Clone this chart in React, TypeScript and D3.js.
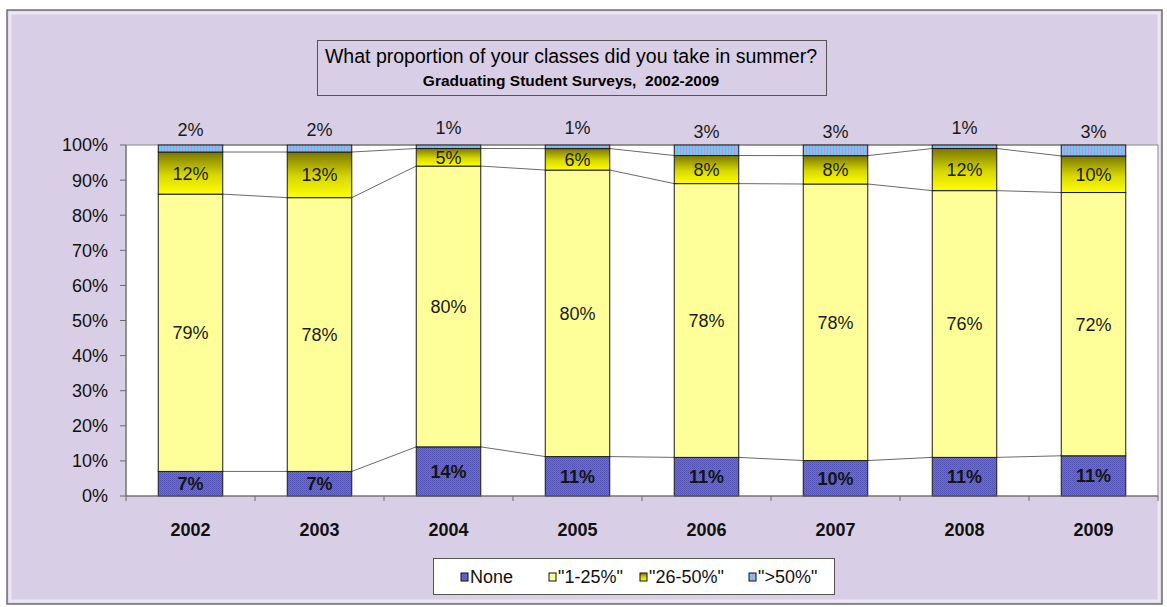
import React from "react";
import * as d3 from "d3";

const years = ["2002", "2003", "2004", "2005", "2006", "2007", "2008", "2009"];
const noneVals = [7, 7, 14, 11, 11, 10, 11, 11];
const lowVals = [79, 78, 80, 80, 78, 78, 76, 72];
const midVals = [12, 13, 5, 6, 8, 8, 12, 10];
const highVals = [2, 2, 1, 1, 3, 3, 1, 3];
const seriesKeys = ["none", "low", "mid", "high"];
const seriesNames = ["None", '"1-25%"', '"26-50%"', '">50%"'];
const yTicks = [0, 10, 20, 30, 40, 50, 60, 70, 80, 90, 100];
const titleText = "What proportion of your classes did you take in summer?";
const subtitleText = "Graduating Student Surveys,  2002-2009";

const W = 1167;
const H = 607;
const plot = { left: 126, right: 1158, top: 145, bottom: 496 };
const FONT = "'Liberation Sans', Arial, sans-serif";

const fills = ["url(#pNone)", "#FFFF99", "url(#gMid)", "url(#pHigh)"];

export default function App() {
  const rows = years.map((y, i) => ({
    year: y,
    none: noneVals[i],
    low: lowVals[i],
    mid: midVals[i],
    high: highVals[i],
  }));
  const stack = d3.stack<any>().keys(seriesKeys).offset(d3.stackOffsetExpand);
  const layers = stack(rows);

  const x = d3
    .scaleBand<string>()
    .domain(years)
    .range([plot.left, plot.right])
    .paddingInner(0.5)
    .paddingOuter(0.25);
  const xOuter = d3.scaleBand<string>().domain(years).range([plot.left, plot.right]);
  const y = d3.scaleLinear().domain([0, 1]).range([plot.bottom, plot.top]);
  const bw = x.bandwidth();

  const legendItems = [
    { x: 461, name: seriesNames[0], fill: fills[0] },
    { x: 549, name: seriesNames[1], fill: fills[1] },
    { x: 640, name: seriesNames[2], fill: fills[2] },
    { x: 749, name: seriesNames[3], fill: fills[3] },
  ];

  return (
    <svg
      width={W}
      height={H}
      style={{ position: "absolute", left: 0, top: 0 }}
      fontFamily={FONT}
    >
      <defs>
        <pattern id="pNone" width="2" height="2" patternUnits="userSpaceOnUse">
          <rect width="2" height="2" fill="#6C6CD8" />
          <rect width="1" height="1" fill="#5252B4" />
          <rect x="1" y="1" width="1" height="1" fill="#5A5AC4" />
        </pattern>
        <pattern id="pHigh" width="3" height="3" patternUnits="userSpaceOnUse">
          <rect width="3" height="3" fill="#6CCBF5" />
          <rect x="2" width="1" height="3" fill="#C98FD6" />
        </pattern>
        <linearGradient id="gMid" x1="0" y1="0" x2="0" y2="1">
          <stop offset="0" stopColor="#7A7800" />
          <stop offset="0.55" stopColor="#D8D800" />
          <stop offset="1" stopColor="#FFFF00" />
        </linearGradient>
      </defs>

      {/* outer frame */}
      <rect x={7} y={10} width={1155} height={594} fill="#D8CEE5" stroke="#6E6E6E" strokeWidth={1.5} />
      <rect x={10} y={13} width={1149} height={588} fill="none" stroke="#F2EEF8" strokeWidth={3} opacity={0.8} />

      {/* title box */}
      <rect x={317.5} y={40.5} width={509} height={55} fill="#D8CEE5" stroke="#555" strokeWidth={1} />
      <text x={571} y={63} textAnchor="middle" fontSize={19.5} fill="#000">
        {titleText}
      </text>
      <text
        x={571}
        y={86}
        textAnchor="middle"
        fontSize={15.5}
        fontWeight="bold"
        fill="#000"
        style={{ whiteSpace: "pre" }}
      >
        {subtitleText}
      </text>

      {/* plot area */}
      <rect
        x={plot.left}
        y={plot.top}
        width={plot.right - plot.left}
        height={plot.bottom - plot.top}
        fill="#FFFFFF"
        stroke="#8A8A8A"
        strokeWidth={1}
      />

      {/* series lines */}
      {layers.map((layer, li) => (
        <g key={"sl" + li}>
          {layer.slice(0, -1).map((d, i) => {
            const next = layer[i + 1];
            const yr = years[i];
            const yn = years[i + 1];
            return (
              <line
                key={i}
                x1={(x(yr) as number) + bw}
                y1={y(d[1])}
                x2={x(yn) as number}
                y2={y(next[1])}
                stroke="#6A6A6A"
                strokeWidth={1}
              />
            );
          })}
        </g>
      ))}

      {/* bars */}
      {layers.map((layer, li) => (
        <g key={"b" + li}>
          {layer.map((d, i) => (
            <rect
              key={i}
              x={x(years[i]) as number}
              y={y(d[1])}
              width={bw}
              height={y(d[0]) - y(d[1])}
              fill={fills[li]}
              stroke="#1A1A1A"
              strokeWidth={1}
            />
          ))}
        </g>
      ))}

      {/* data labels */}
      {layers.map((layer, li) => (
        <g key={"l" + li}>
          {layer.map((d, i) => {
            const v = (rows[i] as any)[seriesKeys[li]];
            const cx = (x(years[i]) as number) + bw / 2;
            let cy = (y(d[0]) + y(d[1])) / 2;
            if (li === 3) cy = cy - 19;
            return (
              <text
                key={i}
                x={cx}
                y={cy}
                dy="0.36em"
                textAnchor="middle"
                fontSize={18}
                fontWeight={li === 0 ? "bold" : "normal"}
                fill={li === 0 ? "#141414" : "#1A1A1A"}
              >
                {v + "%"}
              </text>
            );
          })}
        </g>
      ))}

      {/* y axis */}
      <line x1={plot.left} y1={plot.top} x2={plot.left} y2={plot.bottom} stroke="#6A6A6A" />
      {yTicks.map((t) => (
        <g key={t}>
          <line x1={plot.left - 6} x2={plot.left} y1={y(t / 100)} y2={y(t / 100)} stroke="#6A6A6A" />
          <text x={108} y={y(t / 100)} dy="0.36em" textAnchor="end" fontSize={18} fill="#111">
            {t + "%"}
          </text>
        </g>
      ))}

      {/* x axis */}
      <line x1={plot.left} y1={plot.bottom} x2={plot.right} y2={plot.bottom} stroke="#6A6A6A" />
      {years.map((yr, i) => (
        <line
          key={"t" + i}
          x1={xOuter(yr) as number}
          x2={xOuter(yr) as number}
          y1={plot.bottom}
          y2={plot.bottom + 5}
          stroke="#6A6A6A"
        />
      ))}
      <line x1={plot.right} x2={plot.right} y1={plot.bottom} y2={plot.bottom + 5} stroke="#6A6A6A" />
      {years.map((yr) => (
        <text
          key={"xl" + yr}
          x={(x(yr) as number) + bw / 2}
          y={530}
          dy="0.36em"
          textAnchor="middle"
          fontSize={18}
          fontWeight="bold"
          fill="#111"
        >
          {yr}
        </text>
      ))}

      {/* legend */}
      <rect x={433.5} y={558.5} width={401} height={36} fill="#FFFFFF" stroke="#555" strokeWidth={1} />
      {legendItems.map((it, i) => (
        <g key={"lg" + i}>
          <rect x={it.x} y={573} width={7} height={8} fill={it.fill} stroke="#111" strokeWidth={1} />
          <text x={it.x + 9} y={577} dy="0.36em" fontSize={18} fill="#111">
            {it.name}
          </text>
        </g>
      ))}
    </svg>
  );
}
